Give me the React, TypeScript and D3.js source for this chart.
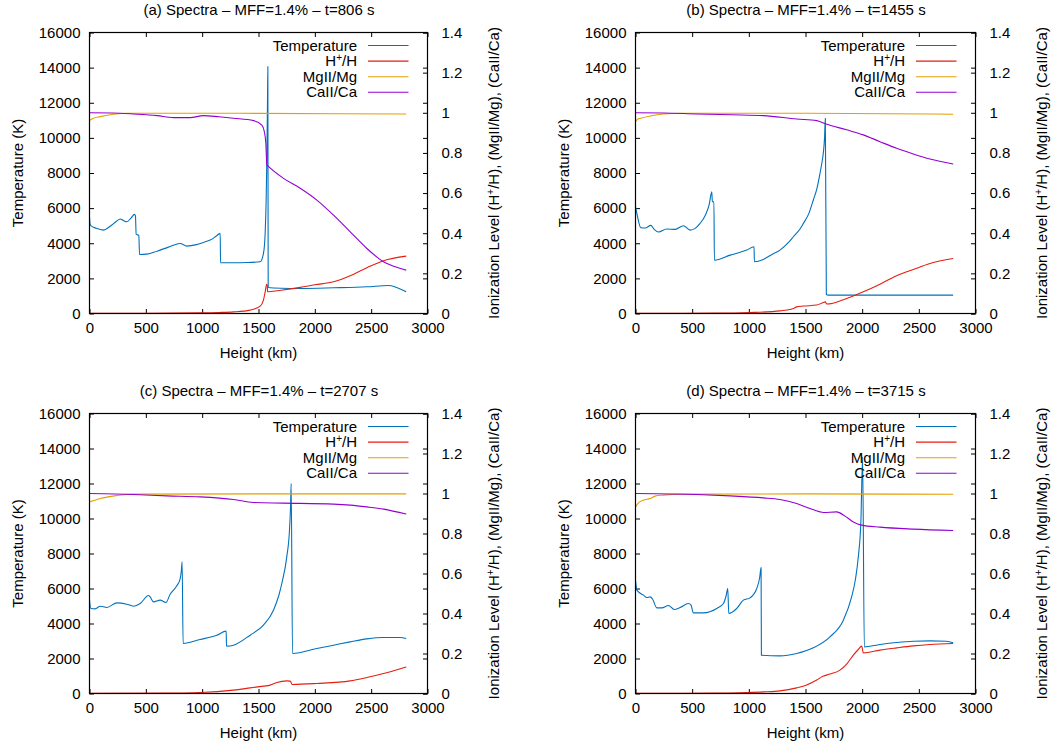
import { useEffect, useRef } from 'react';
import * as d3 from 'd3';

type Pt = [number, number];

// Height (km), temperature (K)
const tempA: Pt[] = [[0,5511],[5,5100],[12,5000],[60,4850],[124,4750],[180,4950],[240,5250],[272,5380],[300,5300],[331,5226],[370,5450],[399,5644],[408,5550],[414,4504],[438,4447],[444,3363],[509,3382],[600,3550],[700,3780],[780,3960],[805,3990],[864,3838],[950,3920],[1012,4047],[1071,4180],[1120,4380],[1160,4560],[1163,2888],[1278,2888],[1400,2900],[1515,2945],[1544,3420],[1559,4560],[1568,6460],[1574,8740],[1580,12160],[1583,14060],[1586,1482],[1700,1440],[1870,1425],[2166,1463],[2462,1520],[2654,1596],[2720,1500],[2811,1235]];
const hA: Pt[] = [[0,0.001],[500,0.001],[982,0.003],[1150,0.005],[1278,0.008],[1426,0.017],[1515,0.037],[1544,0.067],[1560,0.11],[1572,0.146],[1578,0.14],[1580,0.108],[1700,0.116],[1870,0.13],[2000,0.143],[2166,0.158],[2314,0.188],[2462,0.228],[2609,0.263],[2811,0.286]];
const mgA: Pt[] = [[0,0.961],[30,0.972],[95,0.981],[213,0.993],[331,0.998],[800,0.998],[1500,0.997],[2811,0.994]];
const caA: Pt[] = [[0,1.0],[200,0.999],[391,0.994],[600,0.986],[746,0.976],[893,0.976],[1012,0.986],[1150,0.98],[1278,0.973],[1456,0.961],[1530,0.939],[1550,0.91],[1565,0.85],[1574,0.74],[1583,0.735],[1722,0.673],[1870,0.624],[2018,0.565],[2166,0.49],[2314,0.407],[2462,0.324],[2609,0.258],[2700,0.235],[2811,0.216]];

const tempB: Pt[] = [[0,6081],[18,5511],[47,4884],[85,4865],[135,5017],[165,4789],[203,4637],[276,4808],[350,4789],[423,4998],[482,4750],[526,4846],[570,5131],[614,5568],[650,6200],[673,6936],[678,6366],[692,6366],[696,3040],[835,3325],[981,3610],[1046,3800],[1049,2945],[1128,3078],[1200,3350],[1275,3610],[1350,4050],[1393,4371],[1450,4800],[1481,5131],[1530,5700],[1569,6461],[1600,7100],[1628,7981],[1645,8600],[1657,9121],[1668,10000],[1675,11116],[1684,1083],[1700,1045],[2803,1045]];
const hB: Pt[] = [[0,0.001],[700,0.002],[1011,0.005],[1275,0.013],[1393,0.025],[1422,0.033],[1481,0.037],[1599,0.042],[1657,0.055],[1675,0.058],[1687,0.047],[1863,0.075],[2010,0.108],[2157,0.146],[2304,0.188],[2451,0.219],[2598,0.249],[2803,0.274]];
const mgB: Pt[] = [[0,0.956],[18,0.968],[47,0.973],[130,0.984],[247,0.994],[394,0.998],[1500,0.998],[2803,0.993]];
const caB: Pt[] = [[0,1.0],[247,0.999],[541,0.994],[850,0.99],[1128,0.986],[1422,0.969],[1599,0.961],[1675,0.945],[1863,0.915],[2010,0.89],[2157,0.856],[2304,0.823],[2451,0.795],[2598,0.77],[2803,0.745]];

const tempC: Pt[] = [[0,5333],[12,4857],[50,4838],[95,4990],[154,4914],[243,5181],[331,5105],[391,4990],[450,5143],[524,5600],[538,5520],[568,5238],[627,5333],[678,5200],[716,5676],[775,6152],[805,6571],[815,7000],[822,7524],[831,2857],[982,3086],[1130,3333],[1213,3562],[1216,2705],[1278,2762],[1426,3333],[1544,3905],[1633,4762],[1680,5600],[1707,6286],[1751,7810],[1775,9333],[1785,10800],[1790,12000],[1802,2286],[2018,2571],[2166,2762],[2314,2952],[2462,3124],[2609,3200],[2757,3200],[2811,3143]];
const hC: Pt[] = [[0,0.001],[686,0.002],[982,0.005],[1278,0.017],[1426,0.028],[1544,0.037],[1604,0.042],[1663,0.055],[1751,0.063],[1781,0.062],[1799,0.045],[2018,0.05],[2314,0.063],[2462,0.08],[2609,0.1],[2811,0.133]];
const mgC: Pt[] = [[0,0.958],[40,0.965],[95,0.975],[243,0.99],[391,0.997],[1500,0.998],[2811,0.998]];
const caC: Pt[] = [[0,1.0],[391,0.995],[686,0.988],[982,0.983],[1278,0.97],[1456,0.955],[1722,0.952],[2166,0.947],[2314,0.942],[2462,0.933],[2609,0.922],[2811,0.897]];

const tempD: Pt[] = [[0,6476],[12,5905],[71,5619],[100,5486],[129,5524],[150,5400],[188,4895],[232,4895],[291,5029],[341,4800],[394,4914],[467,5143],[490,5050],[510,4610],[599,4610],[717,4857],[776,5143],[800,5600],[814,6000],[823,4571],[893,4857],[952,5333],[1011,5467],[1070,6000],[1095,6600],[1108,7200],[1111,2190],[1275,2152],[1422,2286],[1569,2610],[1716,3238],[1834,4190],[1907,5524],[1940,6500],[1966,7810],[1989,9905],[2004,13524],[2019,2667],[2157,2800],[2304,2914],[2451,2990],[2598,3010],[2744,2990],[2803,2895]];
const hD: Pt[] = [[0,0.001],[700,0.002],[981,0.005],[1128,0.008],[1275,0.013],[1422,0.028],[1510,0.042],[1599,0.067],[1657,0.087],[1716,0.097],[1804,0.117],[1863,0.147],[1922,0.192],[1966,0.22],[1996,0.237],[2010,0.203],[2157,0.217],[2304,0.228],[2451,0.238],[2598,0.245],[2803,0.25]];
const mgD: Pt[] = [[0,0.933],[26,0.953],[71,0.967],[129,0.975],[173,0.987],[247,0.992],[394,0.997],[1500,0.998],[2803,0.996]];
const caD: Pt[] = [[0,1.0],[541,0.995],[835,0.988],[1128,0.978],[1275,0.97],[1422,0.95],[1540,0.925],[1628,0.908],[1657,0.905],[1775,0.908],[1848,0.887],[1922,0.858],[1996,0.842],[2157,0.832],[2451,0.822],[2803,0.815]];

const titles = [
  '(a) Spectra – MFF=1.4% – t=806 s',
  '(b) Spectra – MFF=1.4% – t=1455 s',
  '(c) Spectra – MFF=1.4% – t=2707 s',
  '(d) Spectra – MFF=1.4% – t=3715 s',
];
const xTicks = [0, 500, 1000, 1500, 2000, 2500, 3000];
const yTicks = [0, 2000, 4000, 6000, 8000, 10000, 12000, 14000, 16000];
const y2Ticks = [0, 0.2, 0.4, 0.6, 0.8, 1, 1.2, 1.4];
const seriesNames = ['Temperature', 'H+/H', 'MgII/Mg', 'CaII/Ca'];
const colors = ['#0072bd', '#e51e10', '#e69f00', '#9400d3'];

const panelData = [
  [tempA, hA, mgA, caA],
  [tempB, hB, mgB, caB],
  [tempC, hC, mgC, caC],
  [tempD, hD, mgD, caD],
];

// plot frames in page pixels
const frames = [
  { left: 89.5, right: 427.5, top: 32.5, bottom: 313.5 },
  { left: 635.5, right: 975.5, top: 32.5, bottom: 313.5 },
  { left: 89.5, right: 427.5, top: 413.5, bottom: 693.5 },
  { left: 635.5, right: 975.5, top: 413.5, bottom: 693.5 },
];

const FONT = '"Liberation Sans", Arial, Helvetica, sans-serif';
const W = 1057;
const H = 748;

export default function App() {
  const svgRef = useRef<SVGSVGElement>(null);

  useEffect(() => {
    if (!svgRef.current) return;
    const svg = d3.select(svgRef.current);
    svg.selectAll('*').remove();
    svg.attr('width', W).attr('height', H).attr('viewBox', `0 0 ${W} ${H}`);

    svg.append('rect').attr('width', W).attr('height', H).attr('fill', '#fff');

    const fmtInt = d3.format('d');

    frames.forEach((f, i) => {
      const x = d3.scaleLinear().domain([0, 3000]).range([f.left, f.right]);
      const y = d3.scaleLinear().domain([0, 16000]).range([f.bottom, f.top]);
      const y2 = d3.scaleLinear().domain([0, 1.4]).range([f.bottom, f.top]);
      const g = svg.append('g').attr('font-family', FONT);

      const tick = 4.5;
      // bottom axis with labels
      g.append('g')
        .attr('transform', `translate(0,${f.bottom})`)
        .call(d3.axisBottom(x).tickValues(xTicks).tickSize(-tick).tickSizeOuter(0).tickPadding(9).tickFormat((d) => fmtInt(+d)))
        .call((a) => a.select('.domain').remove());
      // top mirror
      g.append('g')
        .attr('transform', `translate(0,${f.top})`)
        .call(d3.axisTop(x).tickValues(xTicks).tickSize(-tick).tickSizeOuter(0).tickFormat(() => ''))
        .call((a) => a.select('.domain').remove());
      // left axis
      g.append('g')
        .attr('transform', `translate(${f.left},0)`)
        .call(d3.axisLeft(y).tickValues(yTicks).tickSize(-tick).tickSizeOuter(0).tickPadding(9).tickFormat((d) => fmtInt(+d)))
        .call((a) => a.select('.domain').remove());
      // right mirror of y
      g.append('g')
        .attr('transform', `translate(${f.right},0)`)
        .call(d3.axisRight(y).tickValues(yTicks).tickSize(-tick).tickSizeOuter(0).tickFormat(() => ''))
        .call((a) => a.select('.domain').remove());
      // y2 axis
      g.append('g')
        .attr('transform', `translate(${f.right},0)`)
        .call(
          d3.axisRight(y2).tickValues(y2Ticks).tickSize(-tick).tickSizeOuter(0).tickPadding(14)
            .tickFormat((d) => String(+(+d).toFixed(1)))
        )
        .call((a) => a.select('.domain').remove());

      g.selectAll('.tick text').attr('font-size', 15).attr('font-family', FONT).attr('fill', '#000');
      g.selectAll('.tick line').attr('stroke', '#000').attr('stroke-width', 1);

      // series (x values strictly increasing, so monotone smoothing keeps the spikes sharp)
      const lineT = d3.line<Pt>().x((d) => x(d[0])).y((d) => y(d[1])).curve(d3.curveMonotoneX);
      const lineV = d3.line<Pt>().x((d) => x(d[0])).y((d) => y2(d[1])).curve(d3.curveMonotoneX);
      panelData[i].forEach((s, k) => {
        g.append('path')
          .attr('d', (k === 0 ? lineT : lineV)(s) || '')
          .attr('fill', 'none')
          .attr('stroke', colors[k])
          .attr('stroke-width', 1.1)
          .attr('stroke-linejoin', 'round');
      });

      // frame
      g.append('rect')
        .attr('x', f.left).attr('y', f.top)
        .attr('width', f.right - f.left).attr('height', f.bottom - f.top)
        .attr('fill', 'none').attr('stroke', '#000').attr('stroke-width', 1.2);

      // legend
      seriesNames.forEach((name, k) => {
        const ly = f.top + 13 + k * 15.6;
        const t = g.append('text')
          .attr('x', f.right - 70.5).attr('y', ly + 5)
          .attr('text-anchor', 'end').attr('font-size', 15);
        if (name === 'H+/H') {
          t.append('tspan').text('H');
          t.append('tspan').attr('font-size', 10).attr('dy', -5).text('+');
          t.append('tspan').attr('dy', 5).text('/H');
        } else {
          t.text(name);
        }
        g.append('line')
          .attr('x1', f.right - 59.5).attr('x2', f.right - 19)
          .attr('y1', ly).attr('y2', ly)
          .attr('stroke', colors[k]).attr('stroke-width', 1.1);
      });

      const midX = (f.left + f.right) / 2;
      const midY = (f.top + f.bottom) / 2;

      // title
      g.append('text')
        .attr('x', midX + 0.5).attr('y', f.top - 18)
        .attr('text-anchor', 'middle').attr('font-size', 15)
        .text(titles[i]);

      // x label
      g.append('text')
        .attr('x', midX).attr('y', f.bottom + 44)
        .attr('text-anchor', 'middle').attr('font-size', 15)
        .text('Height (km)');

      // left y label
      g.append('text')
        .attr('transform', `translate(${f.left - 67},${midY}) rotate(-90)`)
        .attr('text-anchor', 'middle').attr('font-size', 15)
        .text('Temperature (K)');

      // right y label
      const r = g.append('text')
        .attr('transform', `translate(${f.right + 71},${midY}) rotate(-90)`)
        .attr('text-anchor', 'middle').attr('font-size', 15);
      r.append('tspan').text('Ionization Level (H');
      r.append('tspan').attr('font-size', 10).attr('dy', -5).text('+');
      r.append('tspan').attr('dy', 5).text('/H), (MgII/Mg), (CaII/Ca)');
    });
  }, []);

  return (
    <div style={{ position: 'absolute', left: 0, top: 0 }}>
      <svg ref={svgRef} style={{ display: 'block' }} />
    </div>
  );
}
